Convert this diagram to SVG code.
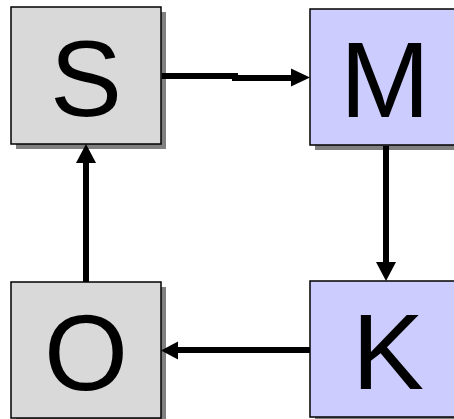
<svg xmlns="http://www.w3.org/2000/svg" width="454" height="419" viewBox="0 0 454 419">
<style>
.shadow{fill:#808080}
.box{stroke:#000;stroke-width:1.5}
.gray{fill:#d9d9d9}
.blue{fill:#ccccff}
.lbl{font-family:"Liberation Sans",Arial,sans-serif;font-size:108px;fill:#000;text-anchor:middle}
.ln{stroke:#000;stroke-width:6;fill:none}
.hd{fill:#000}
</style>
<rect width="454" height="419" fill="#fff"/>
<g id="node-S">
<rect class="shadow" x="16" y="12" width="150" height="137"/>
<rect class="box gray" x="11" y="7" width="150" height="137"/>
<text class="lbl" x="86" y="116">S</text>
</g>
<g id="node-M">
<rect class="shadow" x="315" y="14" width="150" height="136"/>
<rect class="box blue" x="310" y="9" width="150" height="136"/>
<text class="lbl" x="385" y="117">M</text>
</g>
<g id="node-O">
<rect class="shadow" x="16" y="287" width="150" height="136"/>
<rect class="box gray" x="11" y="282" width="150" height="136"/>
<text class="lbl" x="86" y="390">O</text>
</g>
<g id="node-K">
<rect class="shadow" x="315" y="286" width="150" height="136"/>
<rect class="box blue" x="310" y="281" width="150" height="136"/>
<text class="lbl" x="388" y="389">K</text>
</g>
<g id="connectors">
<path class="ln" d="M162,76 H238 M232,78 H293"/>
<polygon class="hd" points="291,68.5 310,77.5 291,86.5"/>
<path class="ln" d="M386,146 V263"/>
<polygon class="hd" points="376,262 396,262 386,281"/>
<path class="ln" d="M310,350 H177"/>
<polygon class="hd" points="178,341.5 178,359.5 161,350.5"/>
<path class="ln" d="M86,282 V162"/>
<polygon class="hd" points="76,163 96,163 86,144"/>
</g>
</svg>
